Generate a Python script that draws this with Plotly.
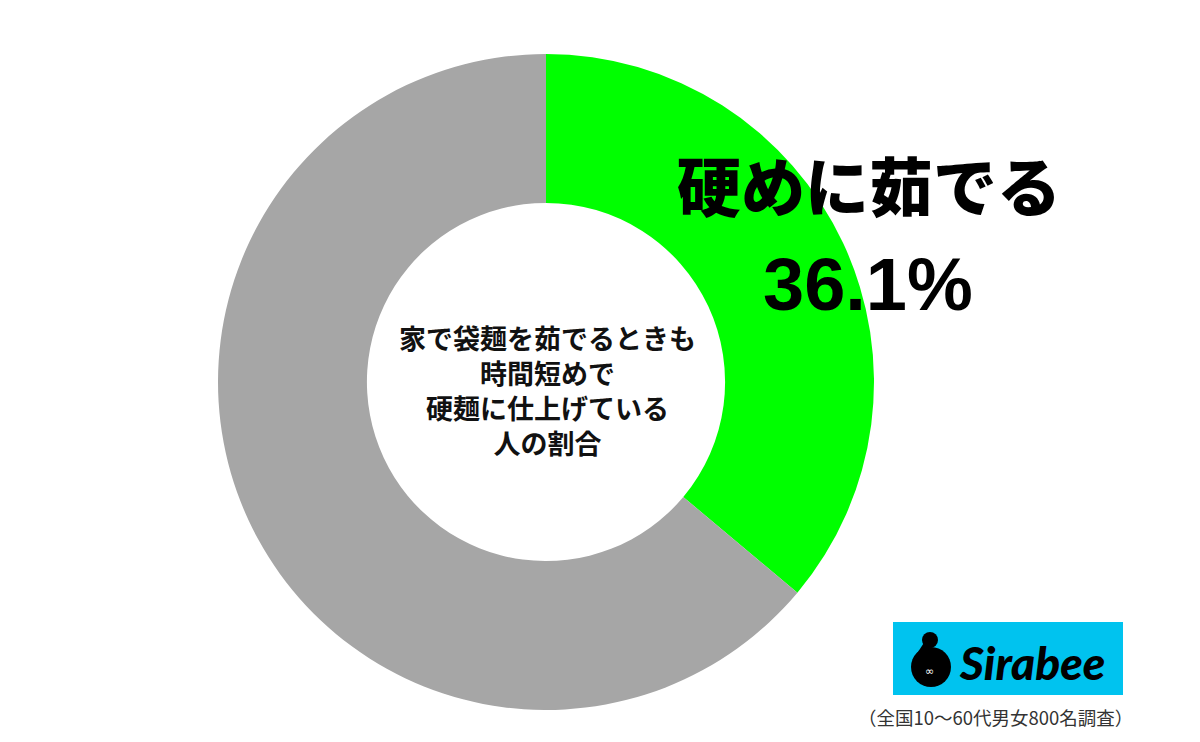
import plotly.graph_objects as go

labels = ["硬めに茹でる", "その他"]
values = [36.1, 63.9]
colors = ["#00FF00", "#A6A6A6"]

center_text = "家で袋麺を茹でるときも<br>時間短めで<br>硬麺に仕上げている<br>人の割合"
note_text = "（全国10～60代男女800名調査）"
brand = "Sirabee"

W, H = 1200, 742


def px(x):
    return x / W


def py(y):
    return 1 - y / H


fig = go.Figure()
fig.add_trace(go.Pie(
    labels=labels,
    values=values,
    hole=0.546,
    sort=False,
    direction="clockwise",
    rotation=0,
    marker=dict(colors=colors, line=dict(width=0)),
    textinfo="none",
    hoverinfo="label+percent",
    showlegend=False,
    domain=dict(x=[px(218), px(874)], y=[py(710), py(54)]),
))

cjk = "Noto Sans CJK JP"


def note(x, y, text, font):
    fig.add_annotation(x=px(x), y=py(y), xref="paper", yref="paper",
                       xanchor="center", yanchor="middle",
                       text=text, showarrow=False, align="center", font=font)


# 中央のテキスト
note(547, 390, center_text, dict(family=cjk, size=27, color="#111111", weight="bold"))

# 大きなラベル
note(869, 183, labels[0], dict(family=cjk, size=64, color="#000000", weight=900))
note(868, 284, f"{values[0]}%",
     dict(family="Liberation Sans Narrow, Arial Narrow, Liberation Sans", size=74,
          color="#000000", weight="bold"))

# ロゴ
fig.add_shape(type="rect", xref="paper", yref="paper",
              x0=px(893), x1=px(1123), y0=py(695), y1=py(622),
              fillcolor="#00C3EF", line=dict(width=0), layer="above")
fig.add_shape(type="circle", xref="paper", yref="paper",
              x0=px(911), x1=px(951), y0=py(687), y1=py(647),
              fillcolor="#000000", line=dict(width=0), layer="above")
fig.add_shape(type="circle", xref="paper", yref="paper",
              x0=px(922), x1=px(938), y0=py(648), y1=py(632),
              fillcolor="#000000", line=dict(width=0), layer="above")
fig.add_shape(type="line", xref="paper", yref="paper",
              x0=px(930), x1=px(917), y0=py(640), y1=py(660),
              line=dict(color="#000000", width=7), layer="above")
note(929, 671, "∞", dict(family="DejaVu Sans", size=11, color="#FFFFFF"))
note(1032, 662, f"<i>{brand}</i>",
     dict(family="Lato, Liberation Sans", size=46, color="#000000", weight=900))

# 注記
note(995, 717, note_text, dict(family=cjk, size=18.5, color="#333333"))

fig.update_layout(
    width=W, height=H,
    margin=dict(l=0, r=0, t=0, b=0),
    paper_bgcolor="#FFFFFF",
    plot_bgcolor="#FFFFFF",
)

fig.write_html("out.html", config={"displayModeBar": False},
               post_script="document.body.style.margin='0';")
